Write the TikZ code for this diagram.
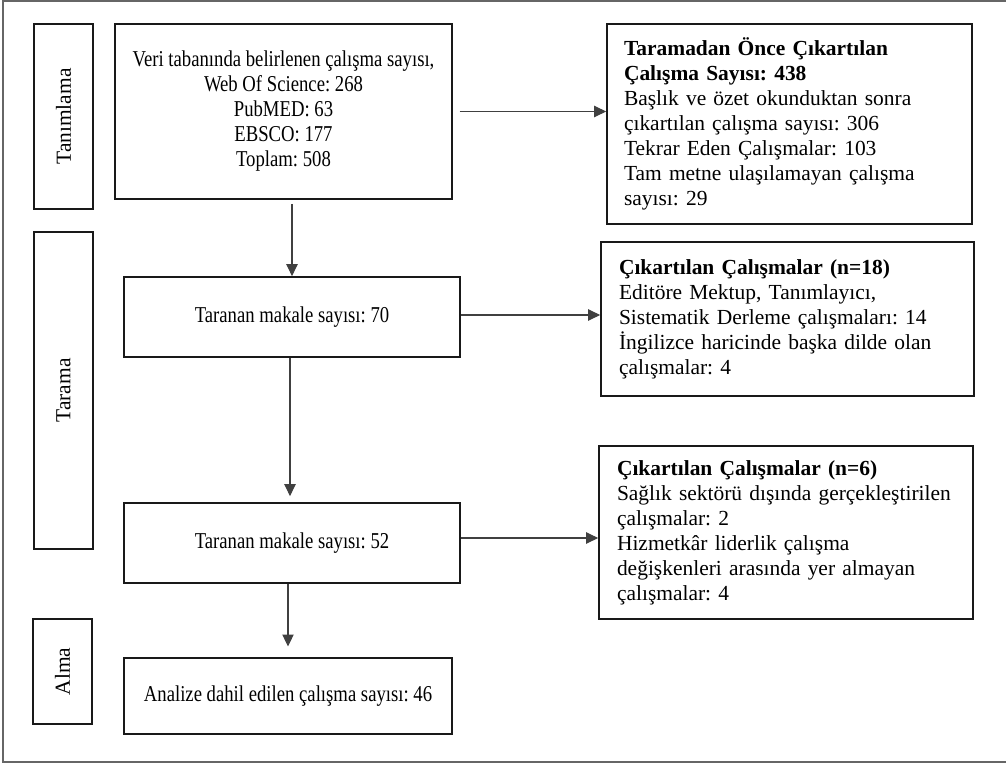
\documentclass[tikz,border=0pt]{standalone}
\usepackage{fontspec}
\setmainfont{Liberation Serif}
\newfontfamily\narrowfont{Liberation Serif}[FakeStretch=0.825]
\usetikzlibrary{arrows.meta,calc}
\def\pxu{0.75pt}
\frenchspacing
\tikzset{
  box/.style={draw=black!90, line width=1.25pt, inner sep=0pt, align=center,
    font=\narrowfont\fontsize{17}{18.75}\selectfont\frenchspacing},
  phase/.style={draw=black!90, line width=1.25pt, inner sep=0pt, rotate=90,
    font=\fontsize{16.1}{18.75}\selectfont},
  sidebox/.style={draw=black!90, line width=1.25pt, inner ysep=0pt, align=left,
    font=\fontsize{16.1}{18.75}\selectfont\frenchspacing},
  arr/.style={draw=black!75, line width=0.8pt, -{Triangle[length=9pt,width=8.5pt]}},
}
\begin{document}
\begin{tikzpicture}[x=0.75pt,y=-0.75pt]
\useasboundingbox (0,0) rectangle (1006,763);
\draw[line width=1.5pt, draw=black!60] (1006,1.5) -- (3,1.5) -- (3,761.5) -- (1006,761.5);

% phase labels
\node[phase, minimum width={185*\pxu}, minimum height={59*\pxu}] (p1) at (63.5,116.5) {Tanımlama};
\node[phase, minimum width={317*\pxu}, minimum height={59*\pxu}] (p2) at (63.5,390.5) {Tarama};
\node[phase, minimum width={105*\pxu}, minimum height={59*\pxu}] (p3) at (62.5,671.5) {Alma};

% main boxes
\node[box, minimum width={337*\pxu}, minimum height={175*\pxu}] (b1) at (283.5,111.5)
  {Veri tabanında belirlenen çalışma sayısı,\\Web Of Science: 268\\PubMED: 63\\EBSCO: 177\\Toplam: 508};
\node[box, minimum width={336*\pxu}, minimum height={80*\pxu}] (b2) at (292,317) {Taranan makale sayısı: 70};
\node[box, minimum width={336*\pxu}, minimum height={80*\pxu}] (b3) at (292,543) {Taranan makale sayısı: 52};
\node[box, minimum width={328*\pxu}, minimum height={76*\pxu}] (b4) at (288,696) {Analize dahil edilen çalışma sayısı: 46};

% side boxes
\node[sidebox, inner xsep={17*\pxu}, text width={331*\pxu}, minimum height={200*\pxu}] (r1) at (789.5,124)
  {\textbf{Taramadan Önce Çıkartılan}\\\textbf{Çalışma Sayısı: 438}\\Başlık ve özet okunduktan sonra\\çıkartılan çalışma sayısı: 306\\Tekrar Eden Çalışmalar: 103\\Tam metne ulaşılamayan çalışma\\sayısı: 29};
\node[sidebox, inner xsep={18*\pxu}, text width={337*\pxu}, minimum height={154*\pxu}] (r2) at (787.5,319)
  {\textbf{Çıkartılan Çalışmalar (n=18)}\\Editöre Mektup, Tanımlayıcı,\\Sistematik Derleme çalışmaları: 14\\İngilizce haricinde başka dilde olan\\çalışmalar: 4};
\node[sidebox, inner xsep={18*\pxu}, text width={338*\pxu}, minimum height={173*\pxu}] (r3) at (786,532.5)
  {\textbf{Çıkartılan Çalışmalar (n=6)}\\Sağlık sektörü dışında gerçekleştirilen\\çalışmalar: 2\\Hizmetkâr liderlik çalışma\\değişkenleri arasında yer almayan\\çalışmalar: 4};

% connectors
\draw[arr, shorten <=3pt] (b1.south -| b2.north) -- (b2.north);
\draw[arr, shorten >=4.5pt] ([xshift=-1.5pt]b2.south) -- ([xshift=-1.5pt]b3.north);
\draw[arr, shorten >=8pt] (b3.south -| b4.north) -- (b4.north);
\draw[arr, shorten <=5pt] (b1.east) -- (b1.east -| r1.west);
\draw[arr] ([yshift=1.5pt]b2.east) -- ([yshift=1.5pt]b2.east -| r2.west);
\draw[arr] ([yshift=3.75pt]b3.east) -- ([yshift=3.75pt]b3.east -| r3.west);
\end{tikzpicture}
\end{document}
